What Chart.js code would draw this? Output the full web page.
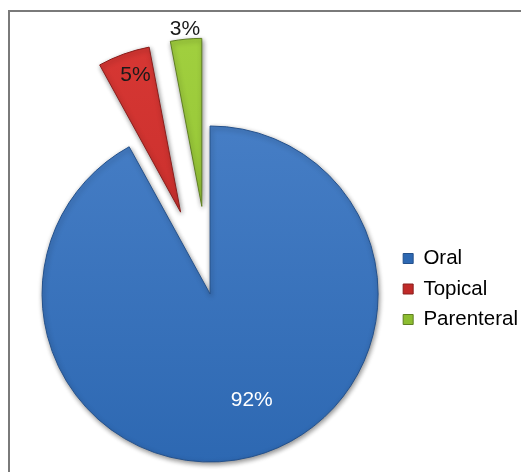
<!DOCTYPE html>
<html>
<head>
<meta charset="utf-8">
<script src="https://cdn.jsdelivr.net/npm/chart.js@4/dist/chart.umd.min.js"></script>
<style>
  html, body { margin: 0; padding: 0; background: #fff; }
  #wrap { position: relative; width: 521px; height: 472px; }
</style>
</head>
<body>
<div id="wrap"><canvas id="c" width="521" height="472"></canvas></div>
<script>
const categories = ["Oral", "Topical", "Parenteral"];
const values = [92, 5, 3];
const valueLabels = ["92%", "5%", "3%"];
const colorsTop = ["#4C83CA", "#DC3A36", "#A6D442"];
const colorsBottom = ["#2D68B2", "#C02A28", "#8CBD30"];
const edgeColors = ["#24518C", "#8A1E1C", "#5F7F22"];
// Chart.js v4 draws an arc moved by offset/4 pixels
const sliceOffsets = [0, 348, 352];
const pieRadius = 168;
const labelRadiusFrac = [0.68, 0.86, 1.06];
const labelAngleShiftDeg = [-7, 1.6, 0];
const labelColors = ["#ffffff", "#1a1a1a", "#1a1a1a"];

function grad(ctx, i) {
  const chart = ctx.chart;
  const area = chart.chartArea;
  if (!area) return colorsTop[i];
  const g = chart.ctx.createLinearGradient(0, 40, 0, 465);
  g.addColorStop(0, colorsTop[i]);
  g.addColorStop(1, colorsBottom[i]);
  return g;
}

const framePlugin = {
  id: 'frame',
  beforeDraw(chart) {
    const c = chart.ctx;
    c.save();
    c.strokeStyle = '#7a7a7a';
    c.lineWidth = 2;
    c.beginPath();
    c.moveTo(9, 480);
    c.lineTo(9, 11);
    c.lineTo(530, 11);
    c.stroke();
    c.restore();
  }
};

const legendShift = {
  id: 'legendShift',
  afterLayout(chart) {
    if (chart.legend) {
      chart.legend.top -= 5;
      chart.legend.bottom -= 5;
    }
  }
};

// Chart.js enlarges narrow offset arcs by r = offset*(1-sin(circumference))
// and trims their angle by r/(PI*R); undo both so exploded slices keep
// the pie radius and their true share of the circle.
const explodeFix = {
  id: 'explodeFix',
  afterUpdate(chart) {
    const meta = chart.getDatasetMeta(0);
    meta.data.forEach((arc, i) => {
      const off = sliceOffsets[i] / 4;
      if (!off) return;
      const fix = 1 - Math.sin(Math.min(Math.PI, arc.circumference || 0));
      const rOff = off * fix;
      arc.outerRadius = pieRadius - rOff;
      const widen = rOff / (Math.PI * pieRadius);
      arc.startAngle -= widen / 2;
      arc.endAngle += widen / 2;
    });
  }
};

const shadowPlugin = {
  id: 'shadow',
  beforeDatasetDraw(chart) {
    const c = chart.ctx;
    c.save();
    c.shadowColor = 'rgba(0,0,0,0.45)';
    c.shadowBlur = 5;
    c.shadowOffsetX = 1;
    c.shadowOffsetY = 2;
  },
  afterDatasetDraw(chart) {
    chart.ctx.restore();
  }
};

const labelPlugin = {
  id: 'sliceLabels',
  afterDatasetsDraw(chart) {
    const c = chart.ctx;
    const meta = chart.getDatasetMeta(0);
    c.save();
    c.font = '21px "Liberation Sans", Arial, sans-serif';
    c.textAlign = 'center';
    c.textBaseline = 'middle';
    meta.data.forEach((arc, i) => {
      const p = arc.getProps(['x', 'y', 'startAngle', 'endAngle'], true);
      const mid = (p.startAngle + p.endAngle) / 2;
      const off = sliceOffsets[i] / 4;
      const la = mid + labelAngleShiftDeg[i] * Math.PI / 180;
      const d = labelRadiusFrac[i] * pieRadius;
      const lx = p.x + Math.cos(mid) * off + Math.cos(la) * d;
      const ly = p.y + Math.sin(mid) * off + Math.sin(la) * d;
      c.fillStyle = labelColors[i];
      c.fillText(valueLabels[i], lx, ly);
    });
    c.restore();
  }
};

new Chart(document.getElementById('c'), {
  type: 'pie',
  data: {
    labels: categories,
    datasets: [{
      data: values,
      backgroundColor: (ctx) => grad(ctx, ctx.dataIndex),
      borderColor: edgeColors,
      borderWidth: 1,
      offset: sliceOffsets,
      radius: pieRadius
    }]
  },
  options: {
    responsive: false,
    animation: false,
    layout: { padding: { left: 27, right: -7, top: 116, bottom: 0 } },
    plugins: {
      tooltip: { enabled: false },
      legend: {
        position: 'right',
        align: 'center',
        labels: {
          boxWidth: 10,
          boxHeight: 10,
          padding: 10,
          color: '#111',
          font: { size: 20.5, family: '"Liberation Sans", Arial, sans-serif' },
          generateLabels(chart) {
            return categories.map((t, i) => ({
              text: t,
              fillStyle: colorsBottom[i],
              strokeStyle: edgeColors[i],
              lineWidth: 1,
              index: i,
              hidden: false
            }));
          }
        }
      }
    }
  },
  plugins: [framePlugin, legendShift, explodeFix, shadowPlugin, labelPlugin]
});
</script>
</body>
</html>
